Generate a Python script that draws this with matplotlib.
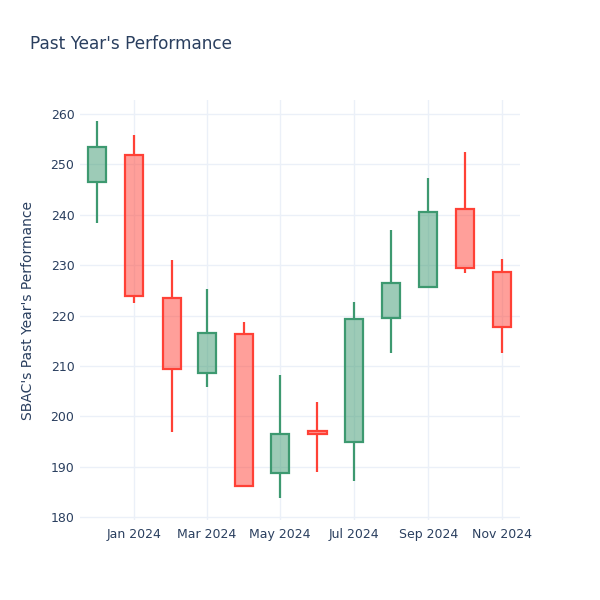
import matplotlib
matplotlib.use("Agg")
import matplotlib.pyplot as plt
import matplotlib.dates as mdates
import numpy as np
import pandas as pd

# monthly OHLC
dates = pd.to_datetime([
    "2023-12-01", "2024-01-01", "2024-02-01", "2024-03-01", "2024-04-01", "2024-05-01",
    "2024-06-01", "2024-07-01", "2024-08-01", "2024-09-01", "2024-10-01", "2024-11-01",
])
opens = [246.5, 251.9, 223.5, 208.6, 216.3, 188.7, 197.1, 194.9, 219.5, 225.7, 241.1, 228.6]
highs = [258.6, 255.8, 231.0, 225.3, 218.7, 208.2, 202.8, 222.7, 237.0, 247.3, 252.5, 231.2]
lows = [238.4, 222.5, 196.9, 205.8, 185.9, 183.8, 188.9, 187.1, 212.6, 225.6, 228.4, 212.5]
closes = [253.5, 223.9, 209.4, 216.5, 186.2, 196.5, 196.5, 219.3, 226.5, 240.5, 229.4, 217.8]

tick_dates = pd.to_datetime(["2024-01-01", "2024-03-01", "2024-05-01",
                             "2024-07-01", "2024-09-01", "2024-11-01"])

UP = "#3D9970"
DOWN = "#FF4136"
TEXT = "#2a3f5f"
GRID = "#EBF0F8"

fig = plt.figure(figsize=(6, 6), dpi=100)
ax = fig.add_axes([80 / 600, 80 / 600, 440 / 600, 420 / 600])

x = mdates.date2num(dates)
width = 15
for xi, o, h, l, c in zip(x, opens, highs, lows, closes):
    col = UP if c >= o else DOWN
    lo, hi = min(o, c), max(o, c)
    ax.bar(xi, hi - lo, bottom=lo, width=width, color=col, alpha=0.5,
           linewidth=0, zorder=2)
    ax.bar(xi, hi - lo, bottom=lo, width=width, fill=False, edgecolor=col,
           linewidth=1.6, zorder=3)
    ax.vlines(xi, hi, h, color=col, linewidth=1.6, zorder=3)
    ax.vlines(xi, l, lo, color=col, linewidth=1.6, zorder=3)

ax.set_xlim(mdates.date2num(pd.Timestamp("2023-11-17")),
            mdates.date2num(pd.Timestamp("2024-11-16")))
ax.set_ylim(179.4, 262.8)
ax.set_yticks(np.arange(180, 261, 10))
ax.set_xticks(mdates.date2num(tick_dates))
ax.xaxis.set_major_formatter(mdates.DateFormatter("%b %Y"))

ax.grid(True, color=GRID, linewidth=1, zorder=0)
ax.set_axisbelow(True)
for s in ax.spines.values():
    s.set_visible(False)
ax.tick_params(length=0, labelsize=9, colors=TEXT, pad=4)
ax.tick_params(axis="x", pad=6)

ax.set_ylabel("SBAC's Past Year's Performance", fontsize=10, color=TEXT, labelpad=11)
fig.text(30 / 600, 1 - 44 / 600, "Past Year's Performance", fontsize=12.2,
         color=TEXT, va="center", ha="left")

fig.savefig("out.png", dpi=100, facecolor="white")
